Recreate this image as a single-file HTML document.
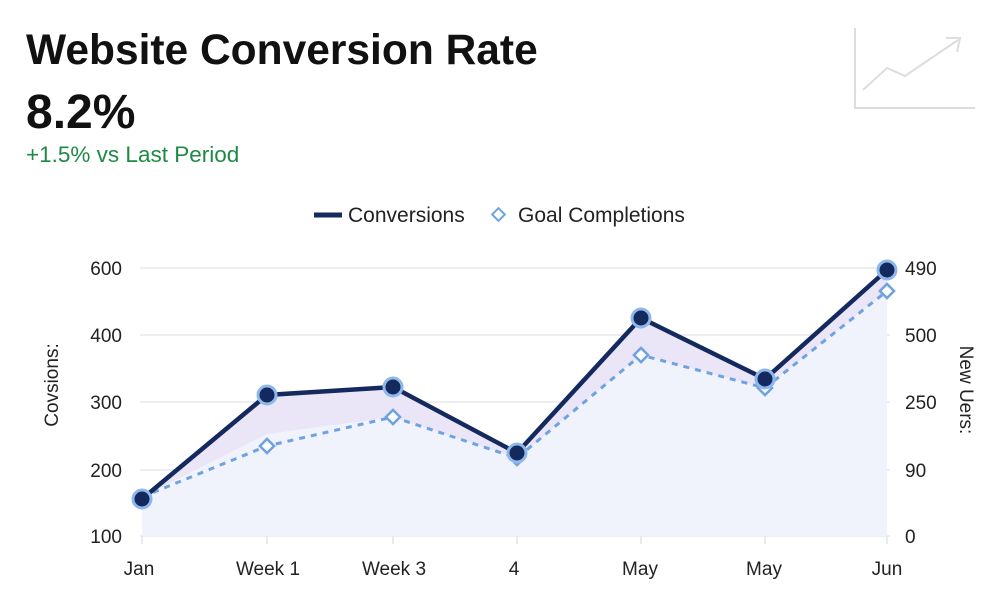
<!DOCTYPE html>
<html><head><meta charset="utf-8"><style>
body{margin:0;width:1002px;height:607px;background:#fff;font-family:"Liberation Sans",sans-serif;overflow:hidden}
</style></head><body>
<svg width="1002" height="607" xmlns="http://www.w3.org/2000/svg" font-family="Liberation Sans, sans-serif">
<text x="26" y="64" font-size="42.5" font-weight="bold" fill="#111">Website Conversion Rate</text>
<text x="26" y="128" font-size="48" font-weight="bold" fill="#111">8.2%</text>
<text x="26" y="162" font-size="22.5" fill="#1e8a44">+1.5% vs Last Period</text>
<g stroke="#ddd" stroke-width="2" fill="none">
<polyline points="855,28 855,108 975,108"/>
<polyline points="863,90 887,68 905,76 958,40"/>
<polyline points="946,38 960,38 957,52"/>
</g>
<line x1="314" y1="215" x2="342" y2="215" stroke="#14295e" stroke-width="5"/>
<text x="348" y="222" font-size="21" fill="#222">Conversions</text>
<rect x="494" y="210" width="9" height="9" transform="rotate(45 498.5 214.5)" fill="#fff" stroke="#6fa3e0" stroke-width="2"/>
<text x="518" y="222" font-size="21" fill="#222">Goal Completions</text>
<g stroke="#e8e8ec" stroke-width="1.5">
<line x1="140" y1="268" x2="890" y2="268"/>
<line x1="140" y1="335" x2="890" y2="335"/>
<line x1="140" y1="402" x2="890" y2="402"/>
<line x1="140" y1="470" x2="890" y2="470"/>
<line x1="140" y1="536" x2="890" y2="536"/>
</g>
<g stroke="#e4e4e8" stroke-width="1.5">
<line x1="142" y1="536" x2="142" y2="544"/><line x1="267" y1="536" x2="267" y2="544"/><line x1="393" y1="536" x2="393" y2="544"/><line x1="517" y1="536" x2="517" y2="544"/><line x1="641" y1="536" x2="641" y2="544"/><line x1="765" y1="536" x2="765" y2="544"/><line x1="887" y1="536" x2="887" y2="544"/>
</g>
<polygon points="142,536 142,499 267,395 393,387 517,453 641,318 765,379 887,270 887,536" fill="#f0f2fc"/>
<polygon points="142,499 267,395 393,387 517,453 641,318 765,379 887,270 887,291 765,388 641,355 517,458 393,417 267,434 142,497" fill="#ebe6f7"/>
<polyline points="142,497 267,446 393,417 517,458 641,355 765,388 887,291" fill="none" stroke="#6fa3e0" stroke-width="3" stroke-dasharray="6,6"/>
<polyline points="142,499 267,395 393,387 517,453 641,318 765,379 887,270" fill="none" stroke="#14295e" stroke-width="4.5"/>
<g fill="#fff" stroke="#6fa3e0" stroke-width="2.5">
<rect x="262" y="441" width="10" height="10" transform="rotate(45 267 446)"/>
<rect x="388" y="412" width="10" height="10" transform="rotate(45 393 417)"/>
<rect x="512" y="453" width="10" height="10" transform="rotate(45 517 458)"/>
<rect x="636" y="350" width="10" height="10" transform="rotate(45 641 355)"/>
<rect x="760" y="383" width="10" height="10" transform="rotate(45 765 388)"/>
<rect x="882" y="286" width="10" height="10" transform="rotate(45 887 291)"/>
</g>
<g fill="#14295e" stroke="#8fb8ea" stroke-width="3">
<circle cx="142" cy="499" r="9"/><circle cx="267" cy="395" r="9"/><circle cx="393" cy="387" r="9"/><circle cx="517" cy="453" r="9"/><circle cx="641" cy="318" r="9"/><circle cx="765" cy="379" r="9"/><circle cx="887" cy="270" r="9"/>
</g>
<g font-size="19" fill="#222" text-anchor="end">
<text x="122" y="275">600</text><text x="122" y="342">400</text><text x="122" y="409">300</text><text x="122" y="477">200</text><text x="122" y="543">100</text>
</g>
<g font-size="19" fill="#222">
<text x="905" y="275">490</text><text x="905" y="342">500</text><text x="905" y="409">250</text><text x="905" y="477">90</text><text x="905" y="543">0</text>
</g>
<text transform="translate(58,385) rotate(-90)" font-size="19" fill="#222" text-anchor="middle">Covsions:</text>
<text transform="translate(960,390) rotate(90)" font-size="19" fill="#222" text-anchor="middle">New Uers:</text>
<g font-size="19" fill="#222" text-anchor="middle">
<text x="139" y="575">Jan</text><text x="268" y="575">Week 1</text><text x="394" y="575">Week 3</text><text x="514" y="575">4</text><text x="640" y="575">May</text><text x="764" y="575">May</text><text x="887" y="575">Jun</text>
</g>
</svg>
</body></html>
